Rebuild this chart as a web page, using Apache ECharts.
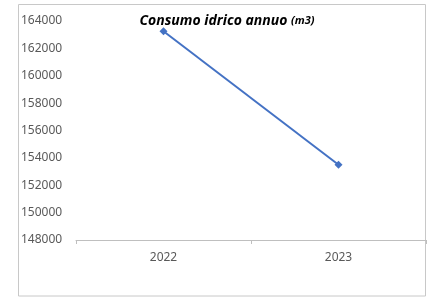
<!DOCTYPE html>
<html>
<head>
<meta charset="utf-8">
<script src="https://cdn.jsdelivr.net/npm/echarts@6/dist/echarts.min.js"></script>
<style>
    html, body { margin: 0; padding: 0; background: #fff; }
    #chart { width: 430px; height: 297px; }
</style>
</head>
<body>
<div id="chart"></div>
<script>
const years = ['2022', '2023']
const consumption = [163250, 153500]
const yMin = 148000
const yMax = 164000
const yStep = 2000

const chart = echarts.init(document.getElementById('chart'))

chart.setOption({
    animation: false,
    textStyle: { fontFamily: 'Noto Sans' },
    title: {
        text: '{main|Consumo idrico annuo }{unit|(m3)}',
        left: 222,
        top: 9,
        textAlign: 'center',
        textStyle: {
            rich: {
                main: { fontSize: 14, fontWeight: 'bold', fontStyle: 'italic', color: '#000', fontFamily: 'Noto Sans' },
                unit: { fontSize: 11, fontWeight: 'bold', fontStyle: 'italic', color: '#000', fontFamily: 'Noto Sans' },
            },
        },
    },
    graphic: [
        {
            type: 'rect',
            shape: { x: 18.5, y: 4.5, width: 407, height: 291.5 },
            style: { fill: 'none', stroke: '#c8c8c8', lineWidth: 1 },
            silent: true,
        },
    ],
    grid: { left: 76, right: 4, top: 21, bottom: 57 },
    xAxis: {
        type: 'category',
        data: years,
        boundaryGap: true,
        axisLine: { lineStyle: { color: '#bfbfbf', width: 1 } },
        axisTick: { show: true, length: 4, lineStyle: { color: '#bfbfbf' } },
        axisLabel: { color: '#595959', fontSize: 12, margin: 12 },
    },
    yAxis: {
        type: 'value',
        min: yMin,
        max: yMax,
        interval: yStep,
        axisLine: { show: false },
        axisTick: { show: false },
        splitLine: { show: false },
        axisLabel: { color: '#595959', fontSize: 12, align: 'left', margin: 55, formatter: value => String(value) },
    },
    series: [
        {
            type: 'line',
            data: consumption,
            symbol: 'diamond',
            symbolSize: 8,
            lineStyle: { color: '#4472c4', width: 2 },
            itemStyle: { color: '#4472c4' },
        },
    ],
})
</script>
</body>
</html>
